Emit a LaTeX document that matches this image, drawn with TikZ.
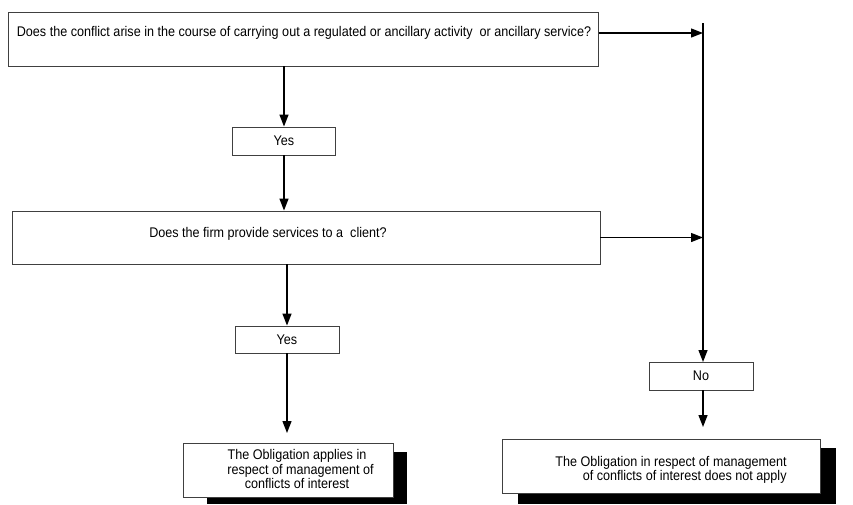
\documentclass[tikz,border=0pt]{standalone}
\usepackage{fontspec}
\setmainfont{Liberation Sans}[FakeStretch=0.9]
\usetikzlibrary{arrows.meta}
\begin{document}
\begin{tikzpicture}[x=1pt,y=-1pt,
  box/.style={draw=black!75, line width=0.9pt, fill=white, inner sep=0pt, rectangle},
  txt/.style={inner sep=0pt, font=\fontsize{14}{13}\selectfont},
  arr/.style={line width=1.3pt, -{Triangle[length=12pt,width=9pt]}},
  shadowbox/.style={fill=black, draw=none}]
\useasboundingbox (0,0) rectangle (853,504);
% top question
\node[box, minimum width=590pt, minimum height=54pt] (q1) at (303.5,39) {};
\node[txt] (q1t) at (304,33) {Does the conflict arise in the course of carrying out a regulated or ancillary activity\ \ or ancillary service?};
% yes 1
\node[box, minimum width=103pt, minimum height=28pt] (y1) at (284,141) {};
\node[txt] (y1t) at (y1) {Yes};
% second question
\node[box, minimum width=588pt, minimum height=53pt] (q2) at (306,237.5) {};
\node[txt] (q2t) at (268,234) {Does the firm provide services to a\ \ client?};
% yes 2
\node[box, minimum width=104pt, minimum height=27pt] (y2) at (287,339.5) {};
\node[txt] (y2t) at (y2) {Yes};
% no
\node[box, minimum width=104pt, minimum height=28pt] (no) at (701,376) {};
\node[txt] (not) at (no) {No};
% outcome boxes with shadows
\fill[shadowbox] (207,452) rectangle (407,504);
\node[box, minimum width=210pt, minimum height=54pt] (o1) at (288,470) {};
\node[txt, align=center] (o1t) at (297,469) {The Obligation applies in\\\ \ respect of management of\\conflicts of interest};
\fill[shadowbox] (518,448) rectangle (836,504);
\node[box, minimum width=318pt, minimum height=54pt] (o2) at (661,466) {};
\node[txt, align=right] (o2t) at (671,470) {The Obligation in respect of management\\of conflicts of interest does not apply};
% right vertical line
\coordinate (vtop) at (703,23);
\coordinate (vno) at (703,362);
\draw[arr] (vtop) -- (vno);
% free ends above the outcome boxes
\coordinate (e1) at (287,433);
\coordinate (e2) at (703,427);
% connectors
\draw[arr] (q1t -| q1.east) -- (q1t -| vtop);
\draw[arr] (q2.east) -- (q2.east -| vtop);
\draw[arr] (q1.south -| y1) -- (y1.north);
\draw[arr] (y1.south) -- (y1.south |- q2.north);
\draw[arr] (q2.south -| y2) -- (y2.north);
\draw[arr] (y2.south) -- (e1);
\draw[arr] (no.south -| vtop) -- (e2);
\end{tikzpicture}
\end{document}
